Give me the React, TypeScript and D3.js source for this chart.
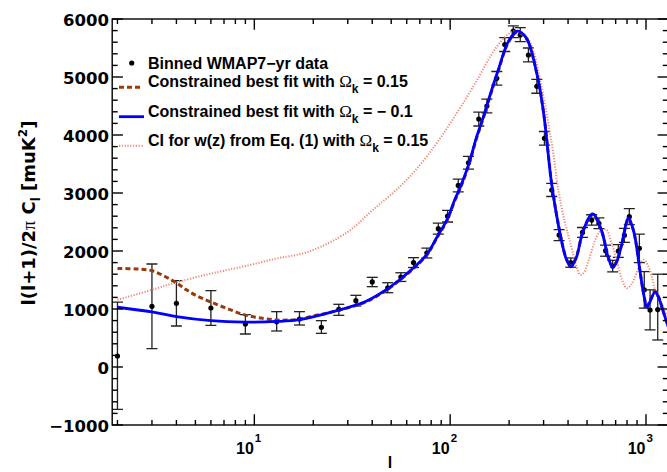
import React from 'react';
import * as d3 from 'd3';

// Binned WMAP7-yr data (multipole l, value, error low, error high)
const dataL = [2, 3, 4, 6, 9, 13, 17, 22, 27, 33, 40, 48, 56, 65, 76, 87, 97, 110, 124, 140, 154, 173, 190, 210, 228, 251, 277, 303, 330, 360, 413, 474, 528, 575, 622, 676, 722, 776, 822, 925, 980, 1049, 1148];
const dataV = [190, 1046, 1098, 1017, 741, 781, 828, 684, 995, 1144, 1466, 1365, 1550, 1800, 1965, 2385, 2600, 3130, 3520, 4276, 4500, 4977, 5560, 5790, 5724, 5379, 4840, 3943, 3052, 2276, 1800, 2320, 2534, 2478, 2005, 1741, 2000, 2270, 2591, 2046, 1330, 983, 990];
const dataLo = [-730, 316, 707, 718, 569, 621, 724, 580, 891, 1052, 1385, 1281, 1475, 1715, 1880, 2290, 2500, 3020, 3410, 4155, 4380, 4860, 5440, 5680, 5610, 5260, 4720, 3825, 2940, 2180, 1720, 2235, 2445, 2385, 1910, 1640, 1890, 2150, 2455, 1800, 1015, 640, 466];
const dataHi = [1120, 1776, 1488, 1316, 902, 954, 954, 799, 1081, 1236, 1546, 1453, 1625, 1885, 2050, 2480, 2700, 3240, 3630, 4395, 4620, 5095, 5680, 5880, 5850, 5500, 4960, 4060, 3165, 2370, 1880, 2405, 2625, 2570, 2100, 1840, 2110, 2390, 2730, 2290, 1645, 1330, 1600];

// Constrained best fit with Omega_k = -0.1 (blue solid)
const blueL = [2, 3, 4, 6, 9, 13, 17, 25, 37, 47, 55, 65, 76, 86, 96, 106, 112, 124, 136, 148, 162, 176, 198, 220, 245, 277, 300, 330, 364, 390, 413, 440, 479, 534, 592, 640, 676, 710, 750, 814, 850, 880, 935, 975, 1010, 1050, 1111, 1160, 1223, 1300];
const blueV = [1030, 950, 870, 800, 775, 785, 815, 950, 1130, 1330, 1500, 1710, 1940, 2250, 2530, 2900, 3080, 3480, 3950, 4320, 4750, 5120, 5610, 5790, 5670, 5060, 4380, 3150, 2300, 1880, 1725, 1880, 2360, 2640, 2360, 1900, 1720, 1820, 2100, 2570, 2430, 2230, 1620, 1240, 1030, 1130, 1290, 1200, 960, 690];

// Constrained best fit with Omega_k = 0.15 (brown dashed)
const brownL = [2, 2.5, 3, 3.5, 4, 4.5, 5, 6, 7.5, 9, 11, 13, 15, 17, 20, 25, 37, 47, 55, 65, 76, 86, 96, 106, 112, 124, 136, 148, 162, 176, 198, 220, 245, 277, 300, 330, 364, 390, 413, 440, 479, 534, 592, 640, 676, 710, 750, 814, 850, 880, 935, 975, 1010, 1050, 1111, 1160, 1223, 1300];
const brownV = [1700, 1690, 1660, 1560, 1450, 1330, 1240, 1120, 990, 895, 840, 810, 810, 825, 880, 950, 1120, 1320, 1490, 1700, 1930, 2240, 2510, 2880, 3060, 3460, 3930, 4300, 4730, 5100, 5590, 5770, 5660, 5060, 4390, 3160, 2310, 1890, 1735, 1890, 2360, 2630, 2360, 1910, 1730, 1830, 2100, 2550, 2420, 2230, 1630, 1250, 1050, 1150, 1310, 1210, 970, 700];

// CI for w(z) from Eq. (1) with Omega_k = 0.15 (pink dotted)
const pinkL = [2, 3, 4, 6, 9, 13, 19, 30, 40, 55, 70, 85, 100, 120, 140, 160, 180, 200, 215, 235, 260, 290, 330, 357, 385, 410, 440, 461, 480, 511, 545, 580, 625, 665, 708, 755, 797, 840, 895, 940, 975, 1020, 1070, 1111, 1170, 1223, 1300];
const pinkV = [1160, 1330, 1460, 1610, 1740, 1870, 1990, 2330, 2700, 3100, 3480, 3850, 4200, 4620, 5000, 5350, 5600, 5750, 5790, 5760, 5550, 4900, 3860, 3050, 2500, 2150, 1750, 1590, 1620, 1850, 2150, 2330, 2370, 2150, 1850, 1500, 1360, 1420, 1620, 1800, 1850, 1760, 1560, 1330, 1150, 1040, 780];

const yMajor = [-1000, 0, 1000, 2000, 3000, 4000, 5000, 6000];
const yLabels = ['\u22121000', '0', '1000', '2000', '3000', '4000', '5000', '6000'];
const xMajor = [10, 100, 1000];
const xExp = ['1', '2', '3'];

const legendItems = [
  { pre: 'Constrained best fit with ', post: ' = 0.15' },
  { pre: 'Constrained best fit with ', post: ' = \u2212 0.1' },
  { pre: 'CI for w(z) from Eq. (1) with ', post: ' = 0.15' },
];

export default function App() {
  const W = 667, H = 472;
  const x = d3.scaleLog().domain([1.88, 1300]).range([112.2, 668.3]);
  const y = d3.scaleLinear().domain([-1000, 6000]).range([425, 19]);
  const [x0, x1] = x.range();
  const [yb, yt] = y.range();

  const mk = (L: number[], V: number[]) =>
    d3.line<number>()
      .x((_, i) => x(L[i]))
      .y((_, i) => y(V[i]))
      .curve(d3.curveCatmullRom.alpha(0.5))(V) as string;

  const yMinor = d3.range(-1000, 6001, 200).filter(v => v % 1000 !== 0);
  const xMinor: number[] = [];
  [1, 10, 100].forEach(d => { for (let k = 2; k <= 9; k++) { const v = d * k; if (v > 1.88 && v < 1300) xMinor.push(v); } });

  const sans = "'Liberation Sans', Arial, Helvetica, sans-serif";
  const wide = "'DejaVu Sans', Verdana, sans-serif";
  const serif = "'Liberation Serif', 'DejaVu Serif', serif";

  const legendColors = ['#9a3a0a', '#0000ff', '#ee8877'];
  const legendBase = [87.3, 116.7, 145.7];

  return (
    <svg width={W} height={H} style={{ position: 'absolute', left: 0, top: 0, background: '#fff' }}>
      <defs>
        <clipPath id="plotclip">
          <rect x={x0} y={yt} width={x1 - x0} height={yb - yt} />
        </clipPath>
      </defs>
      <rect x={0} y={0} width={W} height={H} fill="#fff" />

      {/* data with error bars */}
      <g clipPath="url(#plotclip)">
        {dataL.map((l, i) => {
          const cx = x(l);
          return (
            <g key={i} stroke="#222" strokeWidth={1.3}>
              <line x1={cx} x2={cx} y1={y(dataLo[i])} y2={y(dataHi[i])} />
              <line x1={cx - 5.5} x2={cx + 5.5} y1={y(dataLo[i])} y2={y(dataLo[i])} />
              <line x1={cx - 5.5} x2={cx + 5.5} y1={y(dataHi[i])} y2={y(dataHi[i])} />
              <circle cx={cx} cy={y(dataV[i])} r={2.6} fill="#000" stroke="none" />
            </g>
          );
        })}
        <path d={mk(pinkL, pinkV)} fill="none" stroke="#ee8877" strokeWidth={2} strokeDasharray="1.2 1.6" />
        <path d={mk(brownL, brownV)} fill="none" stroke="#9a3a0a" strokeWidth={3} strokeDasharray="5 3" />
        <path d={mk(blueL, blueV)} fill="none" stroke="#0000ff" strokeWidth={2.8} />
      </g>

      {/* frame and ticks */}
      <g stroke="#000" strokeWidth={1.4}>
        <rect x={x0} y={yt} width={x1 - x0} height={yb - yt} fill="none" />
        {yMajor.map(v => (
          <g key={'ym' + v}>
            <line x1={x0} x2={x0 + 10.7} y1={y(v)} y2={y(v)} />
            <line x1={x1} x2={x1 - 10.7} y1={y(v)} y2={y(v)} />
          </g>
        ))}
        {yMinor.map(v => (
          <g key={'yn' + v}>
            <line x1={x0} x2={x0 + 5.5} y1={y(v)} y2={y(v)} />
            <line x1={x1} x2={x1 - 5.5} y1={y(v)} y2={y(v)} />
          </g>
        ))}
        {xMajor.map(v => (
          <g key={'xm' + v}>
            <line x1={x(v)} x2={x(v)} y1={yb} y2={yb - 10.7} />
            <line x1={x(v)} x2={x(v)} y1={yt} y2={yt + 10.7} />
          </g>
        ))}
        {xMinor.map(v => (
          <g key={'xn' + v}>
            <line x1={x(v)} x2={x(v)} y1={yb} y2={yb - 5} />
            <line x1={x(v)} x2={x(v)} y1={yt} y2={yt + 5} />
          </g>
        ))}
      </g>

      {/* y tick labels */}
      {yMajor.map((v, i) => (
        <text key={'yl' + v} x={109} y={y(v) + 7} textAnchor="end" fontFamily={wide} fontWeight="bold" fontSize={16.5} fill="#000">
          {yLabels[i]}
        </text>
      ))}

      {/* x tick labels */}
      {xMajor.map((v, i) => (
        <g key={'xl' + v}>
          <text x={x(v) - 0.5} y={454} textAnchor="end" fontFamily={sans} fontWeight="bold" fontSize={16} fill="#000">10</text>
          <text x={x(v) + 0.5} y={442} textAnchor="start" fontFamily={sans} fontWeight="bold" fontSize={11.5} fill="#000">{xExp[i]}</text>
        </g>
      ))}

      {/* axis titles */}
      <text x={390} y={467.5} textAnchor="middle" fontFamily={sans} fontWeight="bold" fontSize={16} fill="#000">l</text>
      <text transform="translate(35,213) rotate(-90)" textAnchor="middle" fontFamily={wide} fontWeight="bold" fontSize={18} fill="#000">
        l(l+1)/2<tspan fontFamily={serif} fontWeight="normal">π</tspan> C<tspan fontSize={12} dy={5}>l</tspan><tspan dy={-5}> [muK</tspan><tspan fontSize={12} dy={-8}>2</tspan><tspan dy={8}>]</tspan>
      </text>

      {/* legend */}
      <circle cx={131.7} cy={63} r={2.6} fill="#000" />
      <text x={148} y={69} fontFamily={sans} fontWeight="bold" fontSize={16} fill="#000">Binned WMAP7{'\u2212'}yr data</text>
      <line x1={119} x2={142} y1={legendBase[0]} y2={legendBase[0]} stroke={legendColors[0]} strokeWidth={3} strokeDasharray="5 3" />
      <line x1={119} x2={144} y1={legendBase[1]} y2={legendBase[1]} stroke={legendColors[1]} strokeWidth={2.8} />
      <line x1={119} x2={143} y1={legendBase[2]} y2={legendBase[2]} stroke={legendColors[2]} strokeWidth={2} strokeDasharray="1.2 1.6" />
      {legendItems.map((it, i) => (
        <text key={'lg' + i} x={148} y={legendBase[i]} fontFamily={sans} fontWeight="bold" fontSize={16} fill="#000">
          {it.pre}<tspan fontFamily={serif} fontWeight="normal" fontSize={17}>Ω</tspan><tspan fontSize={12} dy={6}>k</tspan><tspan dy={-6}>{it.post}</tspan>
        </text>
      ))}
    </svg>
  );
}
